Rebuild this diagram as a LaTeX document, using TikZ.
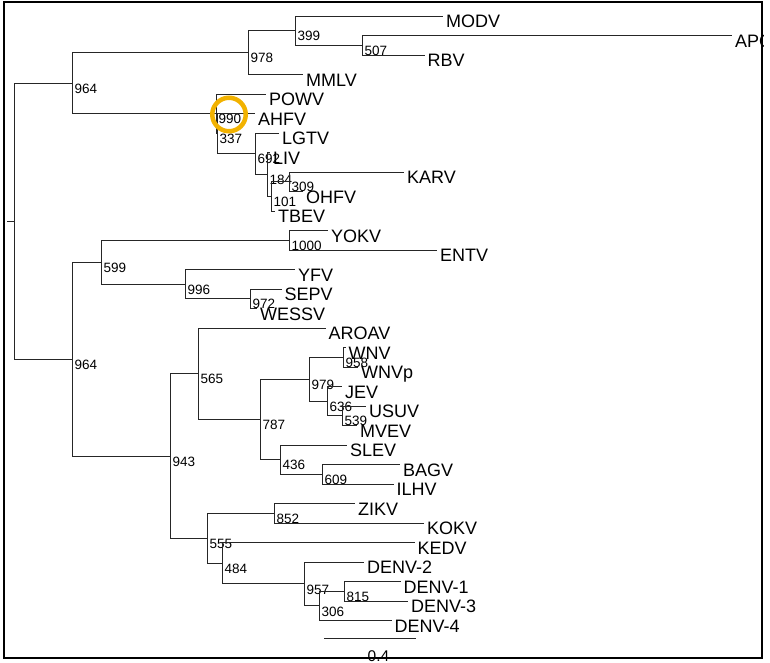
\documentclass[tikz,border=0pt]{standalone}
\usepackage{fontspec}
\setmainfont{Liberation Sans}
\definecolor{ringcol}{RGB}{242,178,0}

\begin{document}
\begin{tikzpicture}[x=1pt, y=-1pt,
    branch/.style={line width=0.9pt, black!85},
    leaf/.style={anchor=north west, inner sep=0pt, xshift=3pt, yshift=1pt,
        font=\fontsize{18}{20}\selectfont},
    boot/.style={anchor=north west, inner sep=0pt, xshift=2.5pt, yshift=-0.5pt,
        font=\fontsize{13.5}{15}\selectfont}]
    \useasboundingbox (0,0) rectangle (770,663);
    \clip (0,0) rectangle (763,663);

    % Leaves (row i sits at 16+19.5*i)
    \foreach \nm/\lab/\i/\xe in {
            modv/MODV/0/443, apoiv/APOIV/1/732, rbv/RBV/2/424.5, mmlv/MMLV/3/303,
            powv/POWV/4/266, ahfv/AHFV/5/255, lgtv/LGTV/6/279, liv/LIV/7/270,
            karv/KARV/8/404, ohfv/OHFV/9/303, tbev/TBEV/10/275,
            yokv/YOKV/11/328, entv/ENTV/12/437, yfv/YFV/13/295,
            sepv/SEPV/14/281.5, wessv/WESSV/15/257,
            aroav/AROAV/16/325.5, wnv/WNV/17/345.5, wnvp/WNVp/18/358,
            jev/JEV/19/342, usuv/USUV/20/366, mvev/MVEV/21/357,
            slev/SLEV/22/347, bagv/BAGV/23/400, ilhv/ILHV/24/393.5,
            zikv/ZIKV/25/355, kokv/KOKV/26/424, kedv/KEDV/27/414.5,
            denv2/DENV-2/28/364, denv1/DENV-1/29/400.5,
            denv3/DENV-3/30/408, denv4/DENV-4/31/391.5} {
        \coordinate (\nm) at (\xe, 16+19.5*\i);
        \node[leaf] (l\nm) at (\nm) {\lab};
    }

    % Inner nodes with bootstrap values
    \foreach \nm/\v/\px/\py in {
            a964/964/72/83.2, a978/978/248/52.6, a399/399/295/30.6, a507/507/362/45.3,
            a990/990/216/113.8, a337/337/217/133.6, a692/692/255/153.7,
            a184/184/267/174.4, a101/101/271/196.4, a309/309/289/181.8,
            b964/964/72/359.1, b599/599/101/262.2, b1000/1000/289/240.3,
            b996/996/185/284.1, b972/972/250/298.8,
            b943/943/170/456.0, b565/565/198/373.7, b787/787/260/419.4,
            b979/979/309/379.2, b958/958/343/357.3, b636/636/327/401.1,
            b539/539/342/415.8, b436/436/280/459.6, b609/609/322/474.3,
            b555/555/207/538.2, b852/852/274/513.3, b484/484/222/563.2,
            b957/957/304/583.9, b306/306/319/605.9, b815/815/344/591.3} {
        \coordinate (\nm) at (\px,\py);
        \node[boot] (s\nm) at (\nm) {\v};
    }
    \coordinate (root) at (14,221.1);
    \coordinate (stub) at (7,221.1);

    % Branches
    \draw[branch] (stub) -- (root);
    \foreach \p/\c in {
            root/a964, root/b964,
            a964/a978, a964/a990, a978/a399, a978/mmlv, a399/modv, a399/a507,
            a507/apoiv, a507/rbv, a990/powv, a990/a337, a337/ahfv, a337/a692,
            a692/lgtv, a692/a184, a184/liv, a184/a101, a101/a309, a101/tbev,
            a309/karv, a309/ohfv,
            b964/b599, b964/b943, b599/b1000, b599/b996, b1000/yokv, b1000/entv,
            b996/yfv, b996/b972, b972/sepv, b972/wessv,
            b943/b565, b943/b555, b565/aroav, b565/b787, b787/b979, b787/b436,
            b979/b958, b979/b636, b958/wnv, b958/wnvp, b636/jev, b636/b539,
            b539/usuv, b539/mvev, b436/slev, b436/b609, b609/bagv, b609/ilhv,
            b555/b852, b555/b484, b852/zikv, b852/kokv, b484/kedv, b484/b957,
            b957/denv2, b957/b306, b306/b815, b306/denv4, b815/denv1, b815/denv3} {
        \draw[branch] (\p) |- (\c);
    }

    % Scale bar
    \coordinate (bar0) at (324,638);
    \coordinate (bar1) at (416,638);
    \draw[branch] (bar0) -- (bar1);
    \node[boot, anchor=north, xshift=0pt, yshift=0pt, font=\fontsize{15.5}{17}\selectfont]
        (lbar) at (376,650) {0.4};

    % Frame
    \draw[line width=2pt] (3.5,2.5) rectangle (761.5,657.5);

    % Highlight
    \node[circle, draw=ringcol, line width=4.5pt, minimum size=33.5pt, inner sep=0pt]
        (ring) at (229,114.5) {};
\end{tikzpicture}
\end{document}
